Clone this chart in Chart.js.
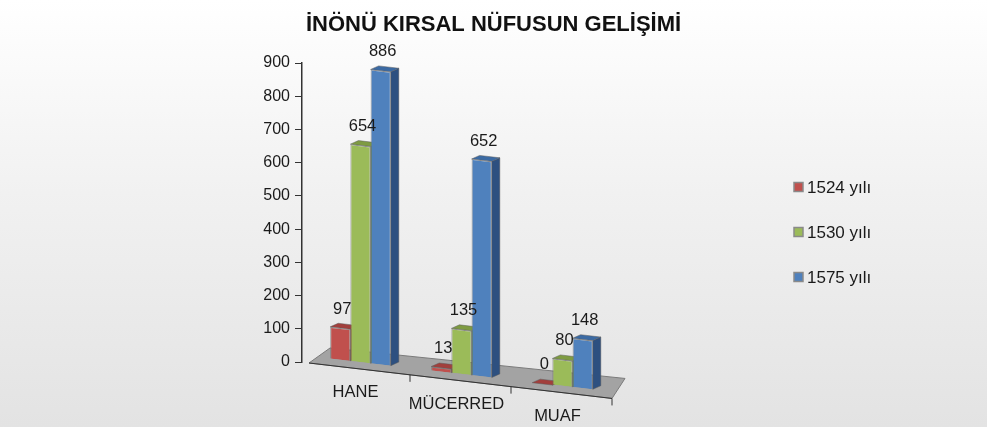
<!DOCTYPE html>
<html>
<head>
<meta charset="utf-8">
<script src="https://cdn.jsdelivr.net/npm/chart.js@4.4.1/dist/chart.umd.min.js"></script>
<style>
  html, body { margin: 0; padding: 0; }
  body { width: 987px; height: 427px; background: linear-gradient(to bottom, #ffffff 0%, #f1f1f1 45%, #e3e3e3 100%); }
  canvas { display: block; }
</style>
</head>
<body>
<canvas id="chart" width="987" height="427"></canvas>
<script>
const categories = ['HANE', 'MÜCERRED', 'MUAF']
const seriesNames = ['1524 yılı', '1530 yılı', '1575 yılı']
const values1524 = [97, 13, 0]
const values1530 = [654, 135, 80]
const values1575 = [886, 652, 148]
const yTicks = [0, 100, 200, 300, 400, 500, 600, 700, 800, 900]

const frontColors = ['#c0504d', '#9bbb59', '#4f81bd']
const topColors = ['#a23f3c', '#7e9b42', '#3b6aa3']
const sideColors = ['#8a3432', '#6c873a', '#2d5080']

const FONT = '"Liberation Sans", Arial, sans-serif'
const SHEAR = 0.117        // slope of the floor, fake perspective
const BAR_SHIFT = [8, -5.3]
const FLOOR_SHIFT = [7, 1]
const DEPTH = [8, -4.5]

// sheared position of a chart point
function T(chart, x, y, shift) {
    return [x + shift[0], y + SHEAR * (x - chart.chartArea.left) + shift[1]]
}

function poly(ctx, pts) {
    ctx.beginPath()
    ctx.moveTo(pts[0][0], pts[0][1])
    for (let i = 1; i < pts.length; i++) ctx.lineTo(pts[i][0], pts[i][1])
    ctx.closePath()
    ctx.fill()
    ctx.stroke()
}

const fake3d = {
    id: 'fake3d',
    beforeDatasetsDraw(chart) {
        const ctx = chart.ctx
        const a = chart.chartArea
        const xs = chart.scales.x
        ctx.save()

        // floor
        const fl = T(chart, a.left, a.bottom, FLOOR_SHIFT)
        const fr = T(chart, a.right, a.bottom, FLOOR_SHIFT)
        ctx.fillStyle = '#a3a3a3'
        ctx.strokeStyle = '#7a7a7a'
        ctx.lineWidth = 1
        poly(ctx, [fl, fr, [fr[0] + 13, fr[1] - 20], [fl[0] + 21, fl[1] - 15]])
        ctx.strokeStyle = '#333'
        ctx.beginPath()
        ctx.moveTo(fl[0], fl[1])
        ctx.lineTo(fr[0], fr[1])
        const half = (xs.getPixelForValue(1) - xs.getPixelForValue(0)) / 2
        for (let i = 0; i < categories.length; i++) {
            const p = T(chart, xs.getPixelForValue(i) + half, a.bottom, FLOOR_SHIFT)
            ctx.moveTo(p[0], p[1])
            ctx.lineTo(p[0], p[1] + 7)
        }
        ctx.stroke()

        // bars are drawn sheared from here on
        ctx.transform(1, SHEAR, 0, 1, BAR_SHIFT[0], BAR_SHIFT[1] - SHEAR * a.left)
        ctx.strokeStyle = 'rgba(90,90,90,0.6)'
        ctx.lineWidth = 0.8
        chart.data.datasets.forEach((ds, i) => {
            chart.getDatasetMeta(i).data.forEach(bar => {
                const l = bar.x - bar.width / 2
                const r = bar.x + bar.width / 2
                const dx = DEPTH[0], dy = DEPTH[1]
                ctx.fillStyle = sideColors[i]
                poly(ctx, [[r, bar.y], [r + dx, bar.y + dy], [r + dx, bar.base + dy], [r, bar.base]])
                ctx.fillStyle = topColors[i]
                poly(ctx, [[l, bar.y], [l + dx, bar.y + dy], [r + dx, bar.y + dy], [r, bar.y]])
            })
        })
    },
    afterDatasetsDraw(chart) {
        const ctx = chart.ctx
        const a = chart.chartArea
        const xs = chart.scales.x
        ctx.restore()

        ctx.save()
        ctx.fillStyle = '#1a1a1a'
        ctx.font = '16.5px ' + FONT
        ctx.textAlign = 'center'
        ctx.textBaseline = 'middle'
        chart.data.datasets.forEach((ds, i) => {
            chart.getDatasetMeta(i).data.forEach((bar, j) => {
                const p = T(chart, bar.x, bar.y, BAR_SHIFT)
                ctx.fillText(String(ds.data[j]), p[0] + 2, p[1] - 19)
            })
        })
        categories.forEach((c, j) => {
            const p = T(chart, xs.getPixelForValue(j), a.bottom, FLOOR_SHIFT)
            ctx.fillText(c, p[0] - 4, p[1] + 24)
        })
        ctx.restore()
    },
    afterDraw(chart) {
        // legend
        const ctx = chart.ctx
        const a = chart.chartArea
        ctx.save()
        ctx.font = '17px ' + FONT
        ctx.textBaseline = 'middle'
        ctx.textAlign = 'left'
        chart.data.datasets.forEach((ds, i) => {
            const x = a.right + 189
            const y = 187 + i * 45
            ctx.fillStyle = ds.backgroundColor
            ctx.strokeStyle = '#8a8a8a'
            ctx.lineWidth = 1.5
            ctx.fillRect(x, y - 4.5, 9, 9)
            ctx.strokeRect(x, y - 4.5, 9, 9)
            ctx.fillStyle = '#1a1a1a'
            ctx.fillText(ds.label, x + 13, y + 1)
        })
        ctx.restore()
    }
}

const datasets = [values1524, values1530, values1575].map((vals, i) => ({
    label: seriesNames[i],
    data: vals,
    backgroundColor: frontColors[i],
    borderColor: 'rgba(110,110,110,0.7)',
    borderWidth: 1,
    categoryPercentage: 0.6,
    barPercentage: 1
}))

new Chart(document.getElementById('chart'), {
    type: 'bar',
    data: { labels: categories, datasets: datasets },
    options: {
        responsive: false,
        animation: false,
        events: [],
        layout: { padding: { left: 0, right: 0, top: 0, bottom: 65 } },
        plugins: {
            legend: { display: false },
            tooltip: { enabled: false },
            title: {
                display: true,
                text: 'İNÖNÜ KIRSAL NÜFUSUN GELİŞİMİ',
                color: '#111',
                font: { family: FONT, size: 22, weight: 'bold' },
                padding: { top: 12, bottom: 24.6 }
            }
        },
        scales: {
            x: { display: false },
            y: {
                min: 0,
                max: 900,
                afterBuildTicks: s => { s.ticks = yTicks.map(v => ({ value: v })) },
                ticks: { color: '#1a1a1a', padding: 5, font: { family: FONT, size: 16 } },
                grid: { drawOnChartArea: false, drawTicks: true, tickLength: 7, color: '#333' },
                border: { display: true, color: '#333', width: 1.5 },
                afterFit: s => { s.width = 302 }
            },
            spacer: {
                position: 'right',
                display: true,
                grid: { display: false },
                border: { display: false },
                ticks: { display: false },
                afterFit: s => { s.width = 382 }
            }
        }
    },
    plugins: [fake3d]
})
</script>
</body>
</html>
